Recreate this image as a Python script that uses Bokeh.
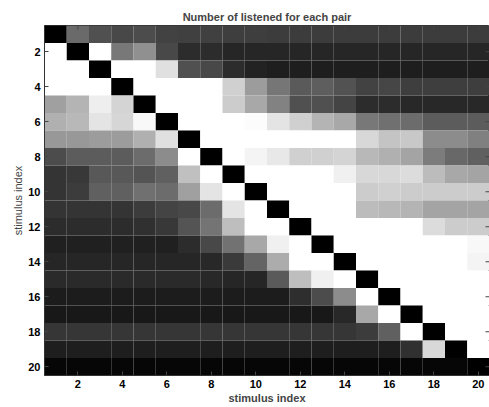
import math
from bokeh.plotting import figure
from bokeh.models import ColumnDataSource, FixedTicker, Range1d
from bokeh.transform import linear_cmap
from bokeh.embed import file_html
from bokeh.resources import INLINE

# Number of listens for each stimulus pair (grey level, 0 = black .. 255 = white)
row_01 = [0, 106, 80, 72, 76, 66, 64, 64, 62, 62, 60, 60, 60, 60, 60, 60, 60, 60, 60, 60]
row_02 = [255, 0, 255, 120, 144, 72, 44, 44, 38, 38, 38, 38, 38, 38, 38, 38, 38, 38, 38, 38]
row_03 = [255, 255, 0, 255, 255, 224, 80, 72, 44, 34, 30, 30, 30, 30, 30, 30, 30, 30, 30, 30]
row_04 = [255, 255, 255, 0, 255, 255, 255, 255, 208, 156, 118, 90, 94, 82, 66, 70, 62, 62, 62, 62]
row_05 = [160, 180, 238, 212, 0, 255, 255, 255, 204, 168, 130, 80, 80, 68, 44, 44, 40, 40, 40, 40]
row_06 = [176, 184, 228, 214, 248, 0, 255, 255, 255, 252, 228, 208, 180, 168, 120, 112, 108, 92, 92, 92]
row_07 = [152, 152, 156, 156, 176, 224, 0, 255, 255, 255, 255, 255, 255, 255, 216, 196, 200, 140, 140, 128]
row_08 = [76, 92, 92, 92, 108, 140, 255, 0, 255, 244, 232, 208, 208, 212, 184, 176, 164, 124, 104, 96]
row_09 = [52, 56, 88, 88, 84, 96, 192, 255, 0, 255, 255, 255, 255, 240, 216, 216, 220, 188, 168, 164]
row_10 = [52, 60, 96, 96, 112, 108, 160, 228, 255, 0, 255, 255, 255, 255, 204, 208, 204, 204, 204, 204]
row_11 = [52, 52, 52, 52, 60, 68, 72, 108, 228, 255, 0, 255, 255, 255, 188, 184, 180, 164, 164, 164]
row_12 = [44, 44, 44, 44, 48, 56, 84, 116, 190, 255, 255, 0, 255, 255, 255, 255, 255, 220, 204, 204]
row_13 = [32, 32, 32, 32, 32, 32, 44, 72, 114, 168, 240, 255, 0, 255, 255, 255, 255, 255, 255, 248]
row_14 = [38, 38, 38, 38, 38, 38, 38, 40, 58, 100, 172, 255, 255, 0, 255, 255, 255, 255, 255, 244]
row_15 = [42, 42, 42, 42, 42, 42, 42, 40, 38, 38, 90, 190, 240, 255, 0, 255, 255, 255, 255, 255]
row_16 = [28, 28, 28, 28, 28, 28, 28, 28, 28, 28, 28, 46, 76, 140, 255, 0, 255, 255, 255, 255]
row_17 = [24, 24, 24, 24, 24, 24, 24, 24, 24, 24, 24, 24, 24, 40, 168, 255, 0, 255, 255, 255]
row_18 = [54, 54, 54, 54, 54, 54, 54, 54, 54, 54, 54, 54, 54, 54, 60, 96, 255, 0, 255, 255]
row_19 = [30, 30, 30, 30, 30, 30, 30, 30, 30, 30, 30, 30, 30, 30, 30, 30, 48, 216, 0, 255]
row_20 = [6, 6, 6, 6, 6, 6, 6, 6, 6, 6, 6, 6, 6, 6, 6, 6, 6, 6, 6, 0]

rows = [row_01, row_02, row_03, row_04, row_05, row_06, row_07, row_08, row_09, row_10,
        row_11, row_12, row_13, row_14, row_15, row_16, row_17, row_18, row_19, row_20]
stimulus = list(range(1, 21))
tick_values = [2, 4, 6, 8, 10, 12, 14, 16, 18, 20]
title_text = "Number of listened for each pair"
axis_title = "stimulus index"

xs, ys, vals = [], [], []
for i, r in enumerate(rows):
    for j, v in enumerate(r):
        xs.append(stimulus[j])
        ys.append(stimulus[i])
        vals.append(v)
source = ColumnDataSource(dict(x=xs, y=ys, v=vals))

palette = ["#%02x%02x%02x" % (k, k, k) for k in range(256)]

FONT = "Liberation Sans"

x_lo, x_hi = stimulus[0] - 0.5, stimulus[-1] + 0.5
p = figure(frame_width=445, frame_height=350,
           x_range=Range1d(x_lo, x_hi), y_range=Range1d(x_hi, x_lo),
           output_backend="svg", toolbar_location=None,
           min_border_left=44, min_border_right=0, min_border_top=25, min_border_bottom=32,
           title=title_text)
p.background_fill_color = "white"
p.border_fill_color = "white"
p.outline_line_color = "#333333"
p.grid.visible = False

p.rect(x="x", y="y", width=1, height=1, source=source,
       fill_color=linear_cmap("v", palette, 0, 255), line_color=None)

# inward box ticks on the top and right edges (outer half is clipped by the frame)
p.scatter(x=[x_hi] * len(tick_values), y=tick_values, marker="dash", size=8,
          line_color="#444444", line_width=1)
p.scatter(x=tick_values, y=[x_lo] * len(tick_values), marker="dash", size=8,
          angle=math.pi / 2, line_color="#444444", line_width=1)

p.title.align = "center"
p.title.vertical_align = "middle"
p.title.text_font = FONT
p.title.text_font_size = "11px"
p.title.text_font_style = "bold"
p.title.offset = 0
p.title.standoff = 4

for ax in (p.xaxis[0], p.yaxis[0]):
    ax.ticker = FixedTicker(ticks=tick_values)
    ax.major_tick_in = 4
    ax.major_tick_out = 0
    ax.minor_tick_line_color = None
    ax.major_tick_line_color = "#444444"
    ax.axis_line_color = "#333333"
    ax.major_label_text_font = FONT
    ax.major_label_text_font_size = "11px"
    ax.major_label_text_font_style = "bold"
    ax.major_label_text_color = "black"
    ax.major_label_standoff = 4
    ax.axis_label = axis_title
    ax.axis_label_text_font = FONT
    ax.axis_label_text_font_size = "11px"
    ax.axis_label_standoff = 1

p.xaxis[0].axis_label_text_font_style = "bold"
p.yaxis[0].axis_label_text_font_style = "normal"
p.yaxis[0].axis_label_standoff = 1

open("out.html", "w").write(file_html(p, INLINE))
